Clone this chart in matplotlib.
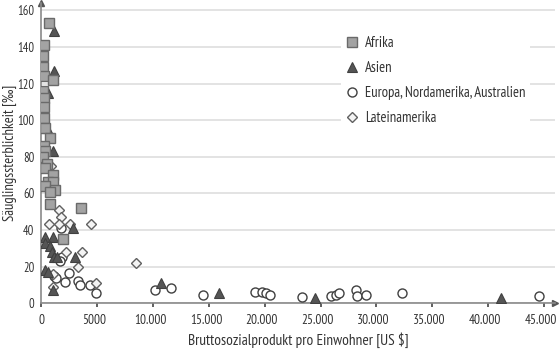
import matplotlib
matplotlib.use('Agg')
import matplotlib.pyplot as plt
import matplotlib.transforms as mtransforms

# Data
afrika_x = [670, 220, 130, 130, 220, 1020, 130, 220, 220, 220, 310, 760, 220, 310, 130,
            490, 310, 1020, 580, 1020, 310, 1200, 760, 760, 3510, 1910]
afrika_y = [153, 141, 135, 129, 124, 122, 116, 112, 107, 101, 96, 90, 86, 83, 80,
            76, 74, 70, 66, 66, 64, 62, 61, 54, 52, 35]

asien_x = [1110, 1110, 580, 490, 1020, 2800, 310, 1020, 310, 760, 930, 1110, 1380, 2980,
           310, 580, 1020, 10700, 15900, 24500, 41200]
asien_y = [149, 127, 115, 96, 83, 41, 36, 36, 33, 31, 28, 25, 25, 25,
           18, 17, 7, 11, 5.5, 3, 3]

europa_x = [1710, 1800, 1640, 1110, 1290, 2470, 2090, 3270, 3420, 4310, 4850, 10180, 11570,
            14450, 19130, 19720, 20080, 20460, 23340, 25940, 26390, 26690, 28170, 28260,
            29060, 32320, 44610]
europa_y = [41, 25, 23, 15, 13.5, 16.6, 11.7, 12.2, 9.9, 9.9, 5.3, 7.1, 8.0,
            4.4, 6.2, 6.2, 5.6, 4.7, 3.1, 3.8, 4.7, 5.6, 7.1, 3.8,
            4.4, 5.3, 3.8]

latein_x = [820, 1580, 1710, 1580, 690, 2600, 4460, 2240, 3660, 3270, 8460, 1050, 4910, 1050]
latein_y = [75, 51, 47, 43, 43, 43, 43, 28, 28, 20, 22, 9, 11, 16]

x_ticks = [0, 5000, 10000, 15000, 20000, 25000, 30000, 35000, 40000, 45000]
x_ticklabels = ['0', '5000', '10.000', '15.000', '20.000', '25.000', '30.000',
                '35.000', '40.000', '45.000']
y_ticks = [0, 20, 40, 60, 80, 100, 120, 140, 160]

plt.rcParams['font.family'] = ['PT Sans Narrow', 'DejaVu Sans']

fig = plt.figure(figsize=(5.6, 3.5), dpi=100)
ax = fig.add_axes([0.074, 0.134, 0.917, 0.857])

ax.plot(europa_x, europa_y, 'o', ms=6.5, mfc='white', mec='#404040', mew=1.0,
        label='Europa, Nordamerika, Australien', zorder=3)
ax.plot(latein_x, latein_y, 'D', ms=5.5, mfc='#f4f4f4', mec='#606060', mew=1.0,
        label='Lateinamerika', zorder=3)
ax.plot(asien_x, asien_y, '^', ms=7, mfc='#555555', mec='#404040', mew=0.8,
        label='Asien', zorder=4)
ax.plot(afrika_x, afrika_y, 's', ms=6.5, mfc='#a3a3a3', mec='#6a6a6a', mew=1.0,
        label='Afrika', zorder=5)

ax.set_xlim(0, 46000)
ax.set_ylim(0, 164)
ax.set_xticks(x_ticks)
ax.set_xticklabels(x_ticklabels)
ax.set_yticks(y_ticks)

for s in ['top', 'right']:
    ax.spines[s].set_visible(False)
for s in ['left', 'bottom']:
    ax.spines[s].set_color('#8a8a8a')
    ax.spines[s].set_linewidth(1.2)

# arrow heads at axis ends
ax.plot(1, 0, '>', color='#555555', ms=5, transform=ax.transAxes, clip_on=False)
ax.plot(0, 1, '^', color='#555555', ms=5, transform=ax.transAxes, clip_on=False)

ax.grid(axis='y', color='#e3e3e3', linewidth=1.4)
ax.set_axisbelow(True)
ax.tick_params(axis='x', length=3, width=1.2, color='#444444', labelsize=9.5,
               labelcolor='#333333', pad=5)
ax.tick_params(axis='y', length=0, labelsize=9, labelcolor='#333333', pad=5)

# nudge x labels slightly left like the original
offset = mtransforms.ScaledTranslation(-3 / 100, 0, fig.dpi_scale_trans)
for lbl in ax.get_xticklabels()[1:]:
    lbl.set_transform(lbl.get_transform() + offset)

ax.set_xlabel('Bruttosozialprodukt pro Einwohner [US $]', fontsize=11,
              color='#333333', labelpad=4)
ax.set_ylabel('Säuglingssterblichkeit [‰]', fontsize=10.5, color='#333333')
ax.yaxis.set_label_coords(-0.047, 0.5)

handles, labels = ax.get_legend_handles_labels()
order = [3, 2, 0, 1]
leg = ax.legend([handles[i] for i in order], [labels[i] for i in order],
                loc='upper left', bbox_to_anchor=(0.57, 0.93), fontsize=10.5,
                frameon=True, facecolor='white', edgecolor='none', framealpha=1,
                handlelength=0.8, handletextpad=0.5, labelspacing=0.75,
                borderpad=0.3, labelcolor='#333333')

plt.savefig('out.png', dpi=100)
